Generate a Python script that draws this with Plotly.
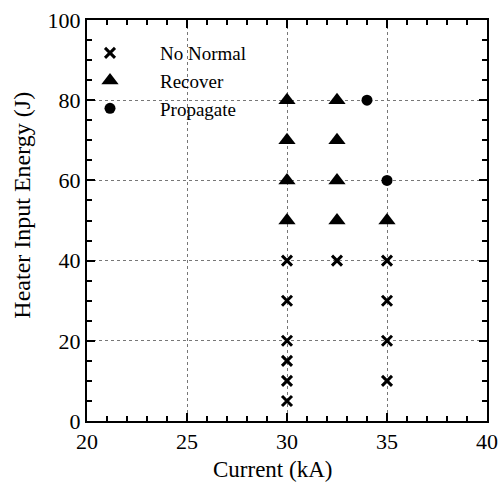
import plotly.graph_objects as go

# Data
nn_x = [30, 30, 30, 30, 30, 30, 32.5, 35, 35, 35, 35]
nn_y = [5, 10, 15, 20, 30, 40, 40, 10, 20, 30, 40]
rec_x = [30, 30, 30, 30, 32.5, 32.5, 32.5, 32.5, 35]
rec_y = [50, 60, 70, 80, 50, 60, 70, 80, 50]
prop_x = [34, 35]
prop_y = [80, 60]

x_title = "Current (kA)"
y_title = "Heater Input Energy (J)"

FONT = "Liberation Serif, Times New Roman, serif"

fig = go.Figure()
fig.add_trace(go.Scatter(x=nn_x, y=nn_y, mode="markers", name="No Normal",
                         marker=dict(symbol="x-thin", size=10, color="black",
                                     line=dict(width=3, color="black"))))
fig.add_trace(go.Scatter(x=rec_x, y=rec_y, mode="markers", name="Recover",
                         marker=dict(symbol="triangle-up", size=15, color="black")))
fig.add_trace(go.Scatter(x=prop_x, y=prop_y, mode="markers", name="Propagate",
                         marker=dict(symbol="circle", size=11, color="black")))

axis_common = dict(
    showline=True, linecolor="black", linewidth=2, mirror="allticks",
    ticks="inside", ticklen=8, tickwidth=2, tickcolor="black",
    showgrid=True, gridcolor="#777", griddash="dot", gridwidth=1,
    zeroline=False, automargin=False, layer="above traces",
    ticklabeloverflow="allow",
    tickfont=dict(family=FONT, size=22, color="black"),
)

fig.update_xaxes(range=[20, 40], tick0=20, dtick=5,
                 minor=dict(dtick=1, ticks="inside", ticklen=5, tickwidth=1.5,
                            tickcolor="black", showgrid=False),
                 **axis_common)
fig.update_yaxes(range=[0, 100], tick0=0, dtick=20,
                 minor=dict(dtick=5, ticks="inside", ticklen=5, tickwidth=1.5,
                            tickcolor="black", showgrid=False),
                 **axis_common)

fig.add_annotation(text=x_title, xref="paper", yref="paper", x=0.4625, y=-0.122,
                   xanchor="center", yanchor="middle", showarrow=False,
                   font=dict(family=FONT, size=23, color="black"))
fig.add_annotation(text=y_title, xref="paper", yref="paper", x=-0.1625, y=0.537,
                   xanchor="center", yanchor="middle", showarrow=False, textangle=-90,
                   font=dict(family=FONT, size=24, color="black"))

fig.update_layout(
    width=501, height=485,
    margin=dict(l=87, r=14, t=20, b=64),
    paper_bgcolor="white", plot_bgcolor="white",
    showlegend=True,
    legend=dict(x=-0.0675, y=0.965, xanchor="left", yanchor="top",
                bgcolor="rgba(0,0,0,0)", itemwidth=90,
                font=dict(family=FONT, size=19, color="black")),
)

fig.write_html("out.html", config={"displayModeBar": False},
               post_script="document.body.style.margin='0';")
